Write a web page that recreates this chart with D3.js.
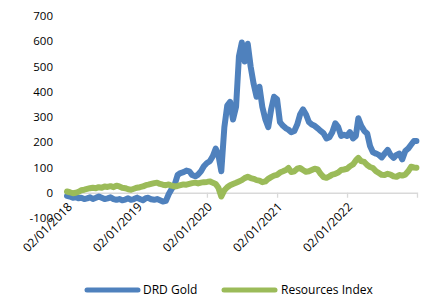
<!DOCTYPE html>
<html><head><meta charset="utf-8">
<script src="https://cdn.jsdelivr.net/npm/d3@7/dist/d3.min.js"></script>
<style>html,body{margin:0;padding:0;background:#fff;}svg{display:block;font-family:"Open Sans",sans-serif;}</style>
</head><body><svg id="c" width="425" height="298"></svg>
<script>
const dates = ["2018-01-02","2018-01-17","2018-02-02","2018-02-17","2018-03-02","2018-03-17","2018-04-02","2018-04-17","2018-05-02","2018-05-17","2018-06-02","2018-06-17","2018-07-02","2018-07-17","2018-08-02","2018-08-17","2018-09-02","2018-09-17","2018-10-02","2018-10-17","2018-11-02","2018-11-17","2018-12-02","2018-12-17",
"2019-01-02","2019-01-17","2019-02-02","2019-02-17","2019-03-02","2019-03-17","2019-04-02","2019-04-17","2019-05-02","2019-05-17","2019-06-02","2019-06-17","2019-07-02","2019-07-17","2019-08-02","2019-08-17","2019-09-02","2019-09-17","2019-10-02","2019-10-17","2019-11-02","2019-11-17","2019-12-02","2019-12-17",
"2020-01-02","2020-01-17","2020-02-02","2020-02-17","2020-03-02","2020-03-17","2020-04-02","2020-04-17","2020-05-02","2020-05-17","2020-06-02","2020-06-17","2020-07-02","2020-07-17","2020-08-02","2020-08-17","2020-09-02","2020-09-17","2020-10-02","2020-10-17","2020-11-02","2020-11-17","2020-12-02","2020-12-17",
"2021-01-02","2021-01-17","2021-02-02","2021-02-17","2021-03-02","2021-03-17","2021-04-02","2021-04-17","2021-05-02","2021-05-17","2021-06-02","2021-06-17","2021-07-02","2021-07-17","2021-08-02","2021-08-17","2021-09-02","2021-09-17","2021-10-02","2021-10-17","2021-11-02","2021-11-17","2021-12-02","2021-12-17",
"2022-01-02","2022-01-17","2022-02-02","2022-02-17","2022-03-02","2022-03-17","2022-04-02","2022-04-17","2022-05-02","2022-05-17","2022-06-02","2022-06-17","2022-07-02","2022-07-17","2022-08-02","2022-08-17","2022-09-02","2022-09-17","2022-10-02","2022-10-17","2022-11-02","2022-11-17","2022-12-02","2022-12-17","2022-12-30"];

const drdGold = [-12,-15,-20,-18,-22,-20,-25,-22,-18,-25,-20,-15,-20,-25,-22,-18,-25,-28,-25,-30,-27,-22,-28,-25,
-20,-25,-30,-22,-20,-26,-28,-25,-30,-35,-32,-5,15,30,70,78,82,88,85,70,65,72,85,105,
118,125,145,175,150,85,260,345,360,290,340,540,595,520,590,500,430,380,420,340,290,260,330,380,
370,280,265,255,250,240,245,270,310,330,310,280,270,265,255,245,235,215,220,240,275,260,225,230,
225,240,215,225,295,265,245,235,185,160,155,150,140,155,170,150,138,150,155,132,165,175,190,205,205];

const resourcesIndex = [5,2,-2,0,3,10,12,15,18,20,18,22,20,25,23,26,22,28,25,20,18,14,12,16,
20,22,25,30,32,35,38,40,35,32,30,33,28,25,27,30,33,32,35,38,40,37,40,42,
43,45,40,35,20,-15,10,22,30,35,40,45,50,58,63,58,55,50,48,42,45,55,62,68,
71,80,85,90,98,82,85,95,98,90,83,85,90,95,92,75,62,59,65,72,75,80,90,92,
95,105,112,128,138,125,122,110,102,98,85,78,71,70,75,72,65,63,70,68,72,85,103,100,99];

const yTicks = [-100,0,100,200,300,400,500,600,700];
const xTickDates = ["2018-01-02","2019-01-02","2020-01-02","2021-01-02","2022-01-02"];
const seriesNames = ["DRD Gold","Resources Index"];
const seriesColors = ["#4f81bd","#9bbb59"];

const parse = d3.timeParse("%Y-%m-%d");
const fmt = d3.timeFormat("%d/%m/%Y");
const svg = d3.select("#c");

const x = d3.scaleTime().domain([parse("2018-01-02"), parse("2023-01-02")]).range([67, 417]);
const y = d3.scaleLinear().domain([-100, 700]).range([218, 16]);

svg.append("g").selectAll("text").data(yTicks).join("text")
  .attr("x", 53).attr("y", d => y(d)).attr("dy", "0.35em")
  .attr("text-anchor", "end").attr("font-size", 11.5).attr("fill", "#000")
  .text(d => d);

const xAxis = d3.axisBottom(x).tickValues(xTickDates.map(parse)).tickSize(5).tickFormat("");
const gx = svg.append("g").attr("transform", `translate(0,${y(0)})`).call(xAxis);
gx.select(".domain").attr("stroke", "#d9d9d9").attr("stroke-width", 1.3);
gx.selectAll(".tick line").attr("stroke", "#d9d9d9").attr("stroke-width", 1.3);

svg.append("g").selectAll("text").data(xTickDates).join("text")
  .attr("transform", d => `translate(${x(parse(d)) + 3},${y(0) + 12}) rotate(-45)`)
  .attr("text-anchor", "end").attr("dy", "0.35em").attr("font-size", 12).attr("fill", "#000")
  .text(d => fmt(parse(d)));

const line = d3.line().x((d, i) => x(parse(dates[i]))).y(d => y(d)).curve(d3.curveLinear);
[drdGold, resourcesIndex].forEach((s, i) => {
  svg.append("path").datum(s).attr("d", line).attr("fill", "none")
    .attr("stroke", seriesColors[i]).attr("stroke-width", 6)
    .attr("stroke-linejoin", "round").attr("stroke-linecap", "round");
});

const leg = [{x0: 87, x1: 138, tx: 143}, {x0: 224, x1: 275, tx: 281}];
leg.forEach((l, i) => {
  svg.append("line").attr("x1", l.x0).attr("x2", l.x1).attr("y1", 290).attr("y2", 290)
    .attr("stroke", seriesColors[i]).attr("stroke-width", 5).attr("stroke-linecap", "round");
  svg.append("text").attr("x", l.tx).attr("y", 290).attr("dy", "0.35em")
    .attr("font-size", 12).attr("fill", "#000").text(seriesNames[i]);
});
</script></body></html>
